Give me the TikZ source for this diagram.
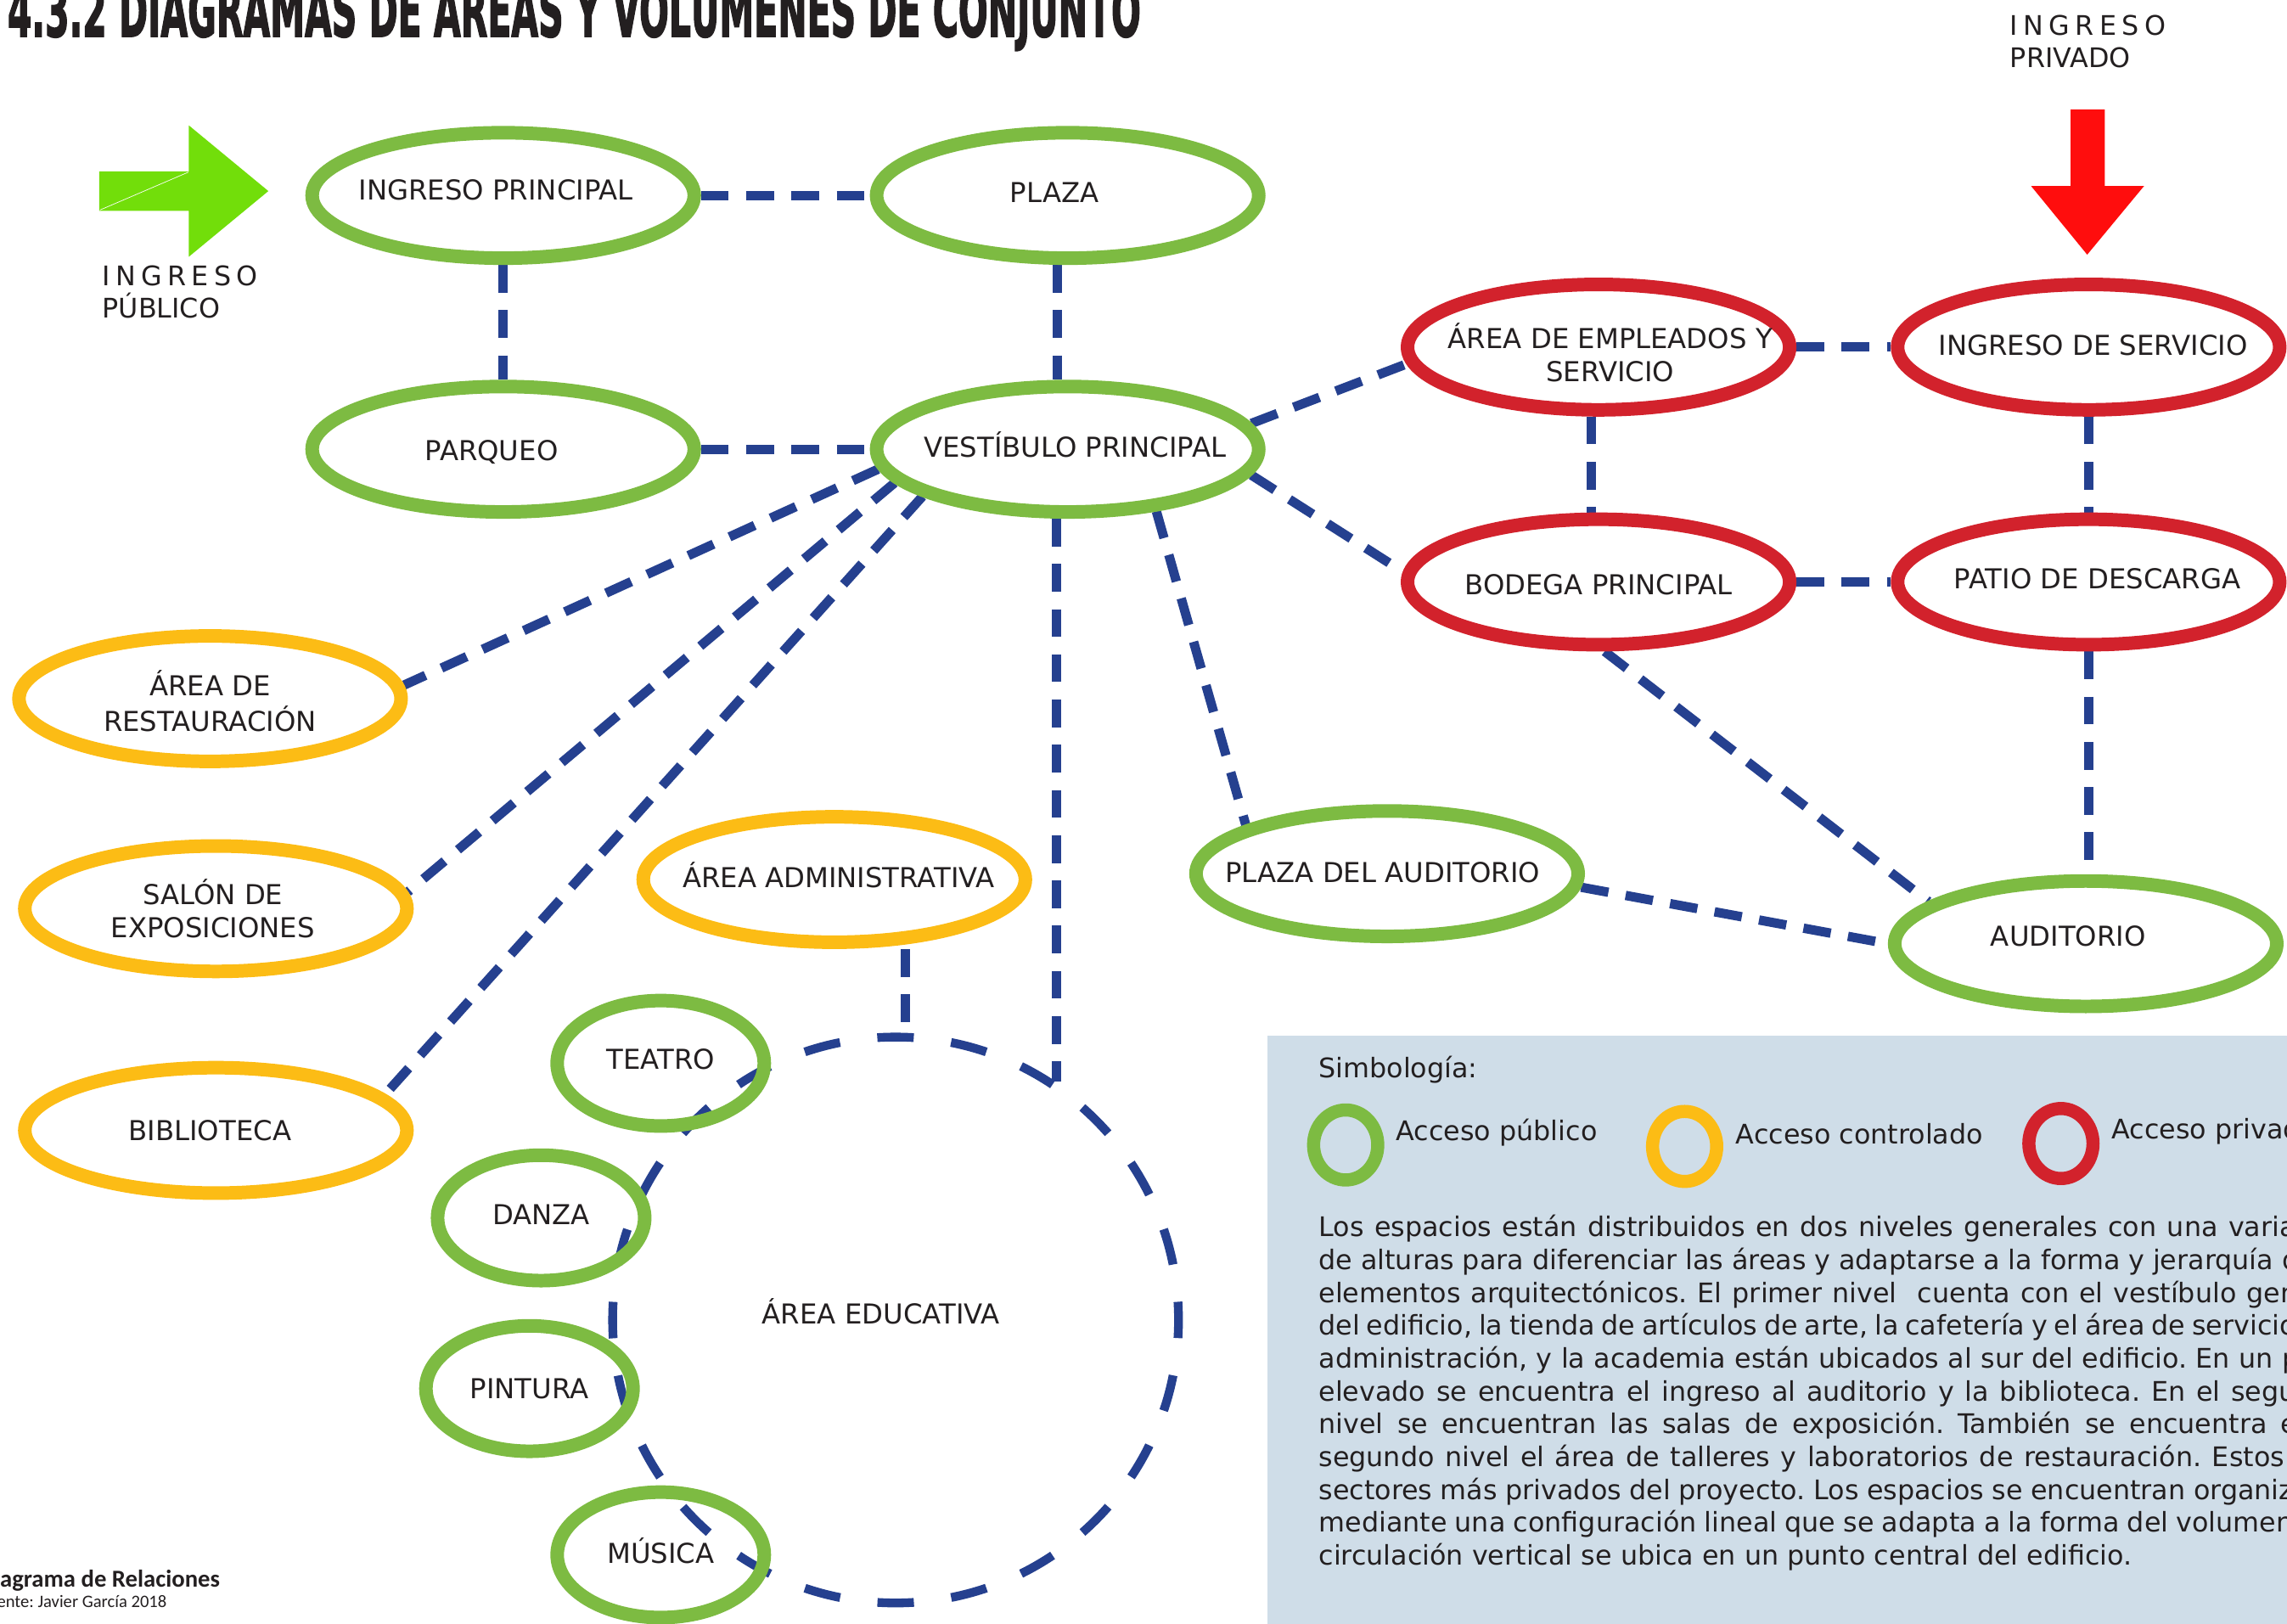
\documentclass[tikz,border=0pt]{standalone}
\usepackage{fontspec}
\setmainfont{DejaVu Sans}
\newfontfamily\titlefont{DejaVu Sans}[BoldFeatures={FakeBold=2.5}]
\newfontfamily\capfont{Carlito}
\usepackage{graphicx}
\usepackage{tikz}
\usetikzlibrary{shapes.geometric, backgrounds}

\definecolor{pubgreen}{RGB}{125,187,66}
\definecolor{ctrlyellow}{RGB}{252,188,21}
\definecolor{privred}{RGB}{210,34,44}
\definecolor{linkblue}{RGB}{37,64,143}
\definecolor{legendbg}{RGB}{207,221,232}
\definecolor{arrowgreen}{RGB}{114,222,10}
\definecolor{arrowred}{RGB}{255,13,13}
\definecolor{ink}{RGB}{35,31,32}

% text of a space, kept out of the ellipse size (optional shift right / down)
\NewDocumentCommand\lbl{O{0pt}O{0pt}m}{\makebox[0pt]{\hspace*{#1}\raisebox{-#2}[\height][\depth]{#3}\hspace*{-#1}}}
\newcommand\twolines[2]{\begin{tabular}{@{}c@{}}#1\\#2\end{tabular}}
\frenchspacing

\begin{document}
\begin{tikzpicture}[x=1pt, y=-1pt,
  every node/.style={font=\fontsize{18.8}{22.5}\selectfont, text=ink},
  room/.style={ellipse, draw=#1, line width=9.3pt, minimum width=262pt, minimum height=86pt, inner sep=0pt},
  subroom/.style={room=#1, minimum width=142pt},
  link/.style={draw=linkblue, line width=6.4pt, dash pattern=on 19pt off 12pt},
  legendring/.style={ellipse, draw=#1, line width=9pt, minimum width=44pt, minimum height=48pt, inner sep=0pt},
  legendtext/.style={anchor=base west, inner sep=0pt, font=\fontsize{18.5}{22.5}\selectfont}]
  \useasboundingbox (0,0) rectangle (1568,1113.4);

  % ---------- title ----------
  \node[anchor=base west, inner sep=0pt] (title) at (5,25)
    {\resizebox{777pt}{36pt}{\titlefont\bfseries 4.3.2 DIAGRAMAS DE \smash{Á}REAS Y VOL\smash{Ú}MENES DE CONJUNTO}};

  % ---------- legend box ----------
  \fill[legendbg] (869,710) rectangle (1575,1120);

  % ---------- entrances ----------
  \fill[arrowgreen] (68,117.5) -- (129.5,117.5) -- (129.5,86) -- (184,131)
    -- (129.5,176) -- (129.5,144.5) -- (68,144.5) -- cycle;
  \draw[white, line width=0.4pt] (68.5,144) -- (129.2,118);
  \node[legendtext] (pubin) at (70,196) {\addfontfeature{LetterSpace=20}INGRESO};
  \node[legendtext] (pubinb) at (70,218) {PÚBLICO};

  \fill[arrowred] (1419.7,75) -- (1443,75) -- (1443,127.5) -- (1470,127.5)
    -- (1431,174.6) -- (1392.5,127.5) -- (1419.7,127.5) -- cycle;
  \node[legendtext] (privin) at (1378,24.3) {\addfontfeature{LetterSpace=20}INGRESO};
  \node[legendtext] (privinb) at (1378,46) {PRIVADO};

  % ---------- spaces ----------
  \node[room=pubgreen] (ingreso) at (345,134) {\lbl[-5pt][-4pt]{INGRESO PRINCIPAL}};
  \node[room=pubgreen] (plaza) at (732,134) {\lbl[-9pt][-2pt]{PLAZA}};
  \node[room=pubgreen] (parqueo) at (345,308) {\lbl[-8pt][2pt]{PARQUEO}};
  \node[room=pubgreen] (vest) at (732,308) {\lbl[5pt][-3pt]{VESTÍBULO PRINCIPAL}};
  \node[room=privred] (emp) at (1096,238) {\lbl[8pt][7pt]{\twolines{ÁREA DE EMPLEADOS Y}{SERVICIO}}};
  \node[room=privred] (iserv) at (1432,238) {\lbl[3pt][-1pt]{INGRESO DE SERVICIO}};
  \node[room=privred] (bodega) at (1096,399) {\lbl[0pt][2pt]{BODEGA PRINCIPAL}};
  \node[room=privred] (patio) at (1432,399) {\lbl[6pt][-2pt]{PATIO DE DESCARGA}};
  \node[room=pubgreen] (aud) at (1430,647) {\lbl[-12pt][-5pt]{AUDITORIO}};
  \node[room=pubgreen] (paud) at (951,599) {\lbl[-3pt][-1pt]{PLAZA DEL AUDITORIO}};
  \node[room=ctrlyellow] (rest) at (144,479) {\lbl[0pt][5pt]{\twolines{ÁREA DE}{RESTAURACIÓN}}};
  \node[room=ctrlyellow] (salon) at (148,623) {\lbl[-2pt][3pt]{\twolines{SALÓN DE}{EXPOSICIONES}}};
  \node[room=ctrlyellow] (biblio) at (148,775) {\lbl[-4pt]{BIBLIOTECA}};
  \node[room=ctrlyellow] (admin) at (572,603) {\lbl[3pt][-3pt]{ÁREA ADMINISTRATIVA}};

  \node[circle, draw=linkblue, line width=6pt, dash pattern=on 25pt off 25.8pt, dash phase=12.5pt,
    minimum size=388pt, inner sep=0pt] (edu) at (614,905) {\lbl[-10pt][-6pt]{ÁREA EDUCATIVA}};
  \node[subroom=pubgreen] (teatro) at (453,729) {\lbl[0pt][-3pt]{TEATRO}};
  \node[subroom=pubgreen] (danza) at (371,835) {\lbl[0pt][-2pt]{DANZA}};
  \node[subroom=pubgreen] (pintura) at (363,952) {\lbl{PINTURA}};
  \node[subroom=pubgreen] (musica) at (453,1066) {\lbl[0pt][-3pt]{MÚSICA}};

  % ---------- relations ----------
  \begin{scope}[on background layer]
    \draw[link] (ingreso) -- (parqueo);
    \draw[link] (ingreso) -- (plaza);
    \draw[link] ([xshift=-7pt]plaza.south) -- ([xshift=-7pt]vest.north);
    \draw[link] (parqueo) -- (vest);
    \draw[link] (vest.8) -- (emp.185);
    \draw[link] (vest.-8) -- (bodega.177);
    \draw[link] (emp) -- (iserv);
    \draw[link] ([xshift=-5pt]emp.south) -- ([xshift=-5pt]bodega.north);
    \draw[link] (iserv) -- (patio);
    \draw[link] (bodega) -- (patio);
    \draw[link] (patio.south) -- (patio.south |- aud.north);
    \draw[link] (bodega.-85) -- (aud.165);
    \draw[link] (paud.-4) -- (aud.west);
    \draw[link] (vest.-35) -- (paud.161);
    \draw[link] (vest.186) -- (rest.4);
    \draw[link] (vest.191) -- (salon.5);
    \draw[link] (vest.198) -- (biblio.12);
    \draw[link] (edu.56 |- vest.south) -- (edu.56);
    \draw[link] (edu.88 |- admin.south) -- (edu.88);
  \end{scope}

  % ---------- legend ----------
  \node[legendtext] (simb) at (904,739) {Simbología:};
  \node[legendring=pubgreen] (kpub) at (922.6,785) {};
  \node[legendtext] (kpubtxt) at (957,782) {Acceso público};
  \node[legendring=ctrlyellow] (kctrl) at (1155,786) {};
  \node[legendtext] (kctrltxt) at (1190,784) {Acceso controlado};
  \node[legendring=privred] (kpriv) at (1413,784) {};
  \node[legendtext] (kprivtxt) at (1447.6,781) {Acceso privado};

  \foreach \w/\ln [count=\i] in {
      670/{Los espacios están distribuidos en dos niveles generales con una varia},
      672/{de alturas para diferenciar las áreas y adaptarse a la forma y jerarquía d},
      671/{elementos arquitectónicos. El primer nivel\ \ cuenta con el vestíbulo gen},
      670/{del edificio, la tienda de artículos de arte, la cafetería y el área de servicio},
      672/{administración, y la academia están ubicados al sur del edificio. En un p},
      670/{elevado se encuentra el ingreso al auditorio y la biblioteca. En el segu},
      671/{nivel se encuentran las salas de exposición. También se encuentra e},
      662/{segundo nivel el área de talleres y laboratorios de restauración. Estos},
      668/{sectores más privados del proyecto. Los espacios se encuentran organiz},
      668/{mediante una configuración lineal que se adapta a la forma del volumen}}
    \node[legendtext] (par\i) at (904,{848+22.5*(\i-1)}) {\makebox[\w pt][s]{\ln}};
  \node[legendtext] (parlast) at (904,1073) {circulación vertical se ubica en un punto central del edificio.};

  % ---------- caption ----------
  \node[anchor=base east, inner sep=0pt, font={\capfont\fontsize{16.7}{19}\selectfont\bfseries}] (captitle)
    at (151,1088) {Diagrama de Relaciones};
  \node[anchor=base east, inner sep=0pt, font={\capfont\fontsize{12}{14}\selectfont}] (capsrc)
    at (114.5,1102) {Fuente: Javier García 2018};
\end{tikzpicture}
\end{document}
